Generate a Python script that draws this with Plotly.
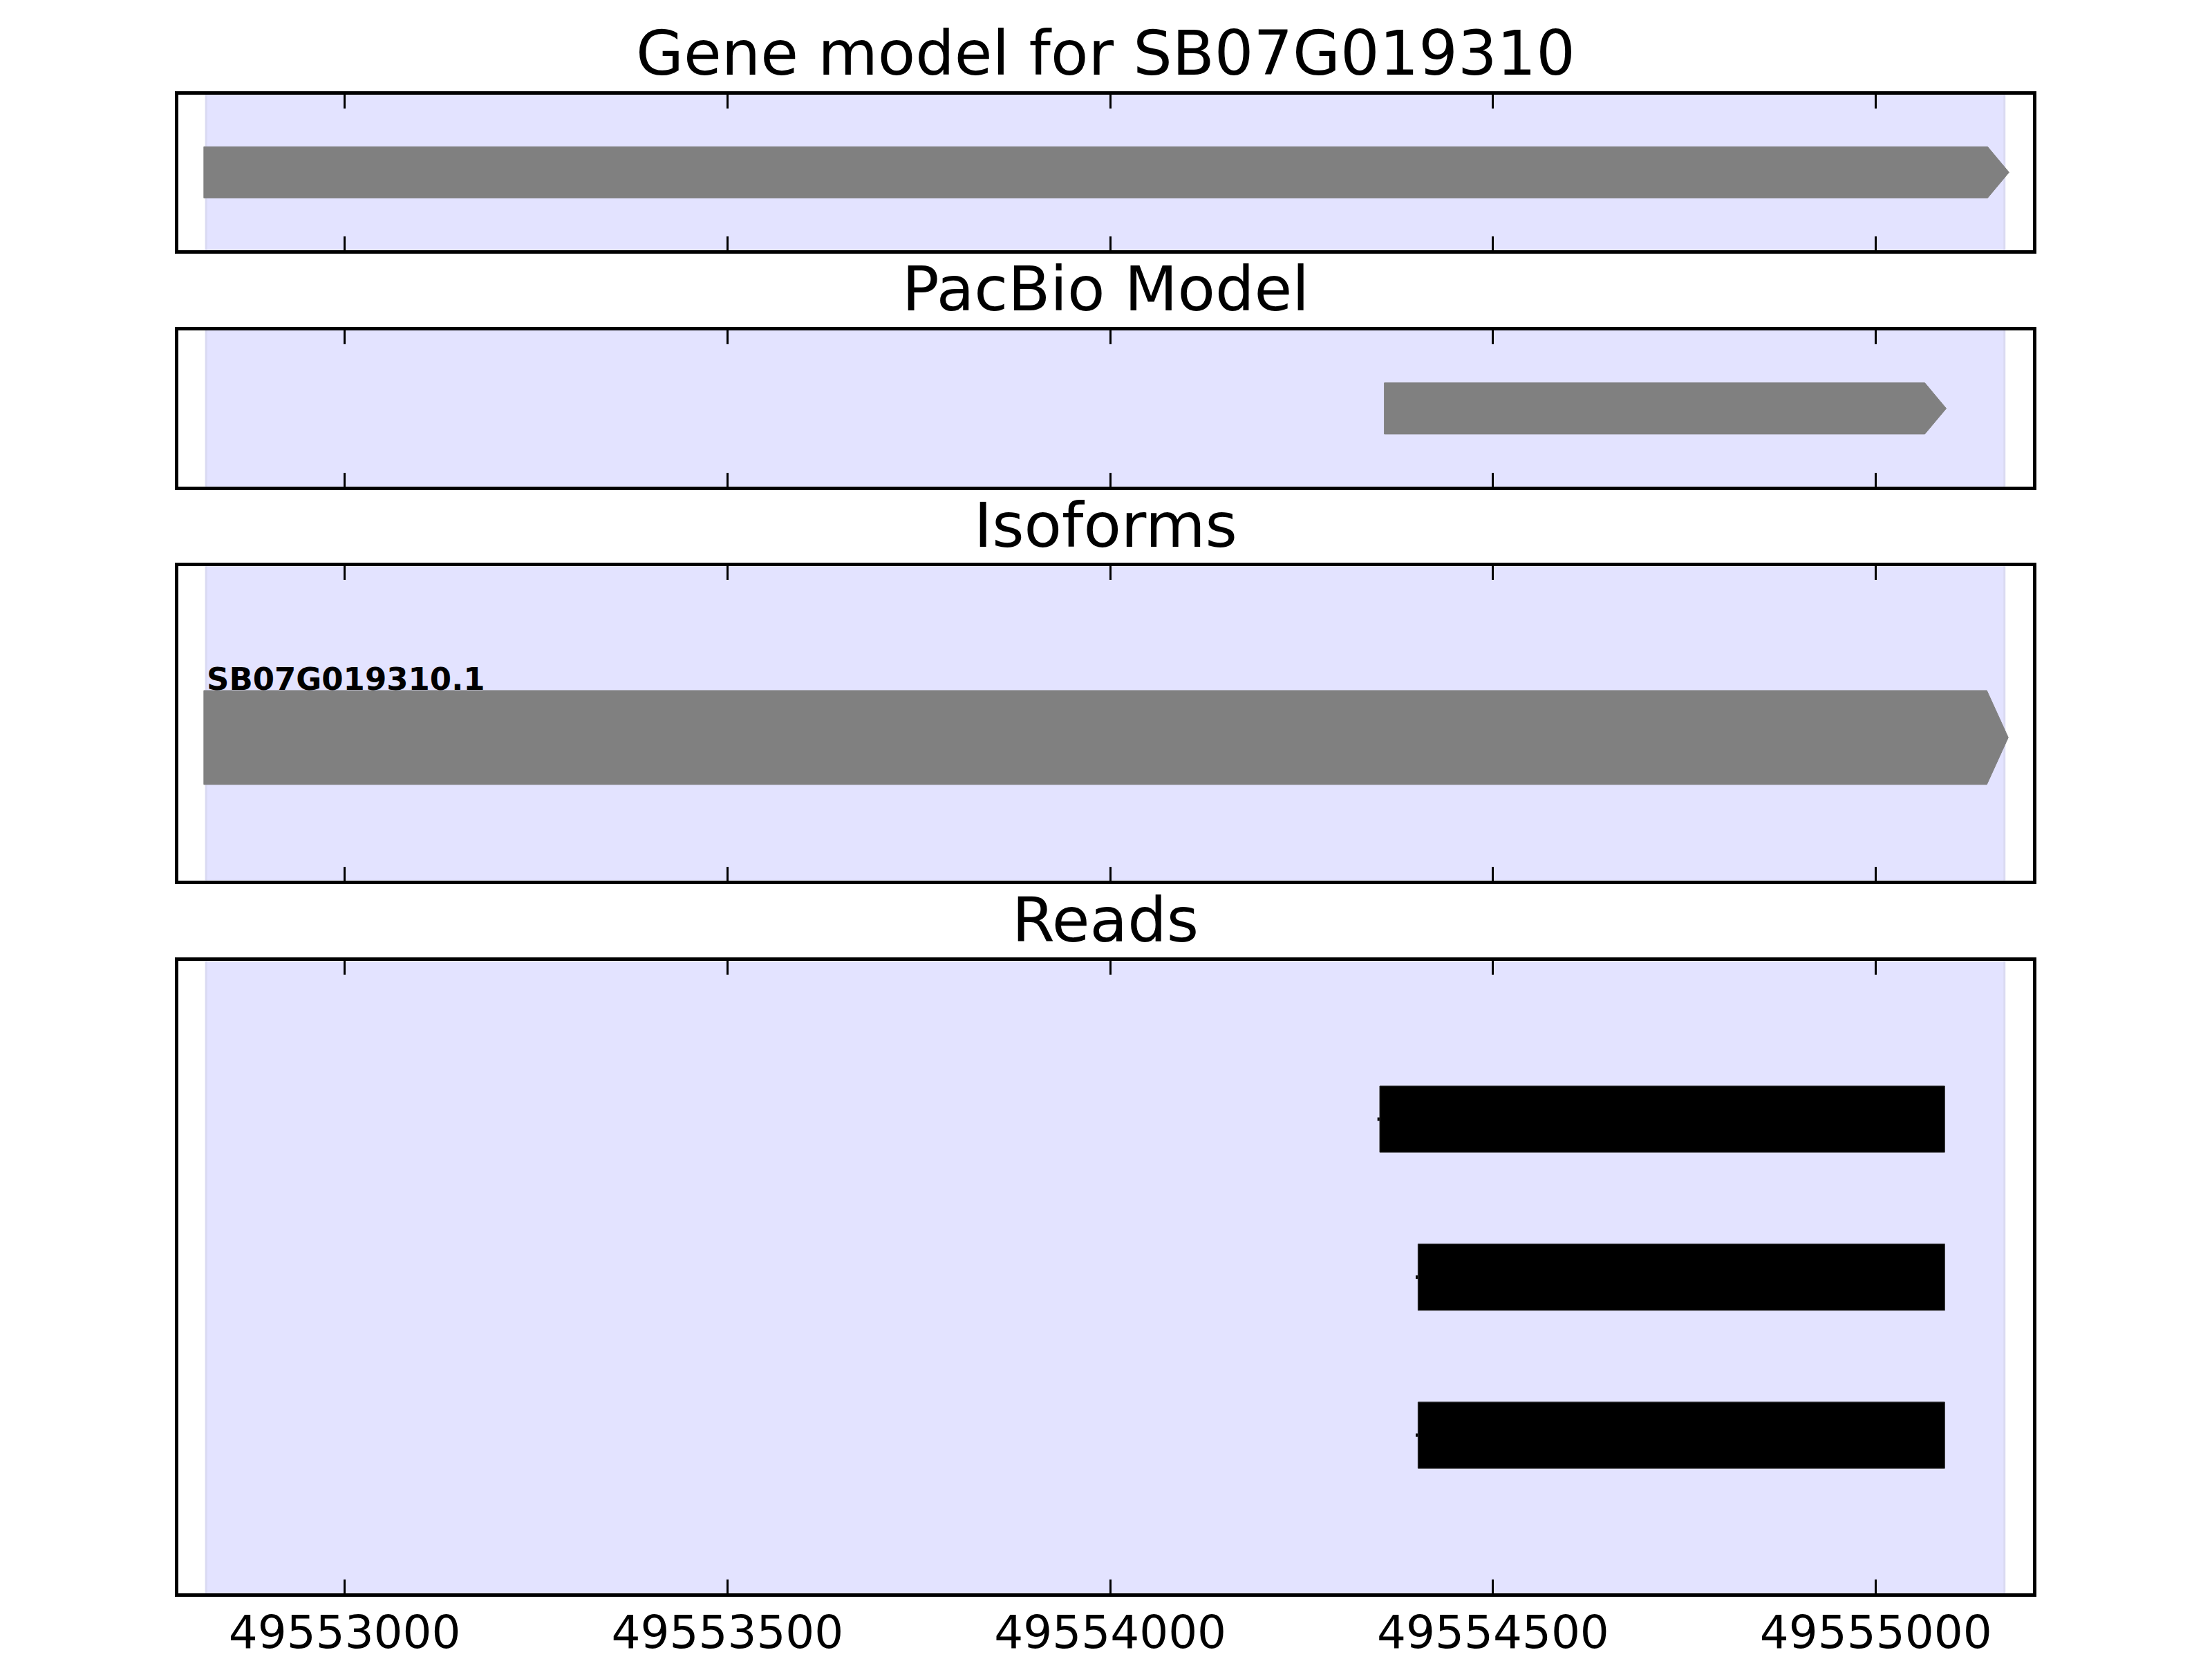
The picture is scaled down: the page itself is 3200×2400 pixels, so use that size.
import plotly.graph_objects as go

# ---------------- data ----------------
panel_titles = ["Gene model for SB07G019310", "PacBio Model", "Isoforms", "Reads"]
tick_values = [49553000, 49553500, 49554000, 49554500, 49555000]
tick_labels = ["49553000", "49553500", "49554000", "49554500", "49555000"]
x_range = [49552783, 49555205]

highlight_start = [49552819]
highlight_end = [49555168]

gene_model_start = [49552816]
gene_model_end = [49555174]

pacbio_start = [49554358]
pacbio_end = [49555092]

isoform_names = ["SB07G019310.1"]
isoform_start = [49552816]
isoform_end = [49555173]

read_start = [49554349, 49554399, 49554399]
read_block_start = [49554352, 49554402, 49554402]
read_end = [49555090, 49555090, 49555090]
read_rows = [3, 2, 1]

# ---------------- style ----------------
W, H = 3200, 2400
VS = 1.0027                # small vertical correction of measured positions
XDOM = [258.3 / W, 2940.7 / W]
panels_px = [(137.3, 362.7), (479.3, 705.7), (821.7, 1277.0), (1394.3, 2311.0)]
title_mid_px = [77.6, 419.6, 761.6, 1334.6]
y_ranges = [[0, 1], [0, 1], [0, 1], [0, 4]]
HEAD = 28
GRAY = "#808080"
FONT = "DejaVu Sans"


def ydom(top, bottom):
    return [1 - bottom * VS / H, 1 - top * VS / H]


def arrow_xy(s, e, yc, h, head):
    xs = [s, e - head, e, e - head, s, s]
    ys = [yc - h, yc - h, yc, yc + h, yc + h, yc - h]
    return xs, ys


fig = go.Figure()


def ax_names(i):
    return ("x" if i == 0 else f"x{i+1}", "y" if i == 0 else f"y{i+1}")


# highlight band in every panel
for i in range(4):
    xa, ya = ax_names(i)
    lo, hi = y_ranges[i]
    for s, e in zip(highlight_start, highlight_end):
        fig.add_trace(go.Scatter(
            x=[s, e, e, s, s], y=[lo - 1, lo - 1, hi + 1, hi + 1, lo - 1],
            fill="toself", fillcolor="rgb(227,227,255)", mode="lines",
            line=dict(color="rgb(218,218,242)", width=3),
            xaxis=xa, yaxis=ya, hoverinfo="skip", showlegend=False))

# panel 1: gene model
for s, e in zip(gene_model_start, gene_model_end):
    xs, ys = arrow_xy(s, e, 0.5, 0.165, HEAD)
    fig.add_trace(go.Scatter(x=xs, y=ys, fill="toself", fillcolor=GRAY, mode="lines",
                             line=dict(color=GRAY, width=1), xaxis="x", yaxis="y",
                             showlegend=False))

# panel 2: PacBio model
for s, e in zip(pacbio_start, pacbio_end):
    xs, ys = arrow_xy(s, e, 0.5, 0.164, HEAD)
    fig.add_trace(go.Scatter(x=xs, y=ys, fill="toself", fillcolor=GRAY, mode="lines",
                             line=dict(color=GRAY, width=1), xaxis="x2", yaxis="y2",
                             showlegend=False))

# panel 3: isoforms
iso_yc, iso_h = 0.455, 0.1497
for name, s, e in zip(isoform_names, isoform_start, isoform_end):
    xs, ys = arrow_xy(s, e, iso_yc, iso_h, HEAD)
    fig.add_trace(go.Scatter(x=xs, y=ys, fill="toself", fillcolor=GRAY, mode="lines",
                             line=dict(color=GRAY, width=1), xaxis="x3", yaxis="y3",
                             showlegend=False))
    fig.add_annotation(x=s, y=iso_yc + iso_h, xref="x3", yref="y3", text=f"<b>{name}</b>",
                       showarrow=False, xanchor="left", yanchor="bottom", yshift=-12, xshift=2,
                       font=dict(family=FONT, size=45, color="black"))

# panel 4: reads
read_h = 0.21
for rs, bs, e, r in zip(read_start, read_block_start, read_end, read_rows):
    fig.add_trace(go.Scatter(x=[rs, bs], y=[r, r], mode="lines",
                             line=dict(color="black", width=5), xaxis="x4", yaxis="y4",
                             showlegend=False))
    fig.add_trace(go.Scatter(x=[bs, e, e, bs, bs], y=[r - read_h, r - read_h, r + read_h, r + read_h, r - read_h],
                             fill="toself", fillcolor="black", mode="lines",
                             line=dict(color="#333333", width=1), xaxis="x4", yaxis="y4",
                             showlegend=False))

layout = dict(width=W, height=H, margin=dict(l=0, r=0, t=0, b=0),
              paper_bgcolor="white", plot_bgcolor="white", showlegend=False,
              font=dict(family=FONT, color="black"))

for i in range(4):
    xa, ya = ax_names(i)
    xkey = "xaxis" if i == 0 else f"xaxis{i+1}"
    ykey = "yaxis" if i == 0 else f"yaxis{i+1}"
    top, bottom = panels_px[i]
    layout[xkey] = dict(domain=XDOM, anchor=ya, range=x_range, tickmode="array",
                        tickvals=tick_values, ticktext=tick_labels, ticks="inside",
                        ticklen=20, tickwidth=3, tickcolor="black", showline=True,
                        linewidth=5, linecolor="black", mirror="ticks", showgrid=False,
                        zeroline=False, showticklabels=(i == 3), ticklabelstandoff=-5,
                        tickfont=dict(family=FONT, size=66, color="black"))
    if i > 0:
        layout[xkey]["matches"] = "x"
    layout[ykey] = dict(domain=ydom(top, bottom), anchor=xa, range=y_ranges[i],
                        showline=True, linewidth=5, linecolor="black", mirror=True,
                        showticklabels=False, ticks="", showgrid=False, zeroline=False,
                        fixedrange=True)

fig.update_layout(**layout)

for i, t in enumerate(panel_titles):
    fig.add_annotation(x=(XDOM[0] + XDOM[1]) / 2, y=1 - title_mid_px[i] * VS / H, xref="paper", yref="paper",
                       text=t, showarrow=False, xanchor="center", yanchor="middle",
                       font=dict(family=FONT, size=89, color="black"))

post = (
    "var d=document.documentElement,b=document.body;"
    "d.style.margin='0';d.style.padding='0';d.style.overflow='hidden';"
    "b.style.margin='0';b.style.padding='0';b.style.overflow='hidden';"
)
fig.write_html("out.html", config={"displayModeBar": False}, post_script=post)
